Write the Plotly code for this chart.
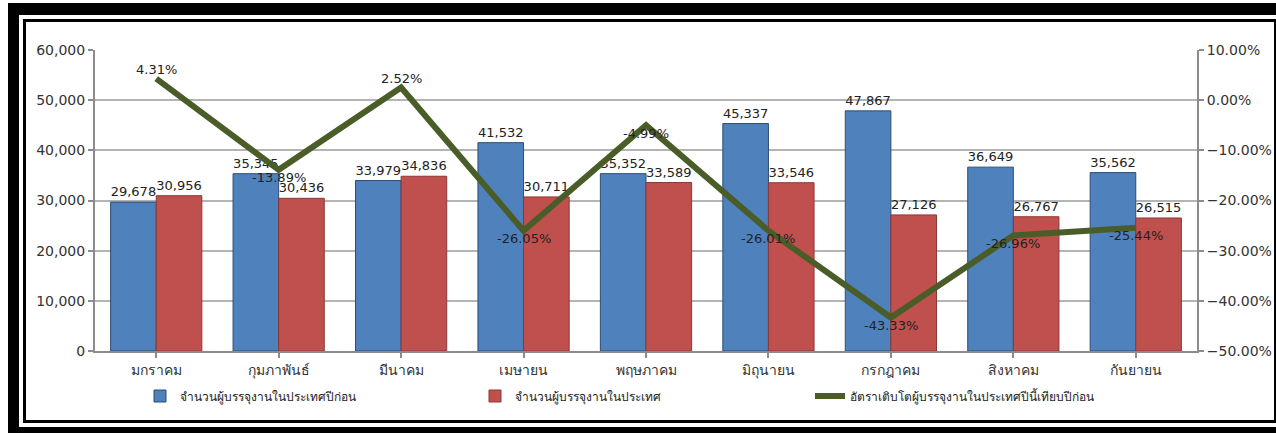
import plotly.graph_objects as go

months = ["มกราคม", "กุมภาพันธ์", "มีนาคม", "เมษายน", "พฤษภาคม",
          "มิถุนายน", "กรกฎาคม", "สิงหาคม", "กันยายน"]
prev_year = [29678, 35345, 33979, 41532, 35352, 45337, 47867, 36649, 35562]
this_year = [30956, 30436, 34836, 30711, 33589, 33546, 27126, 26767, 26515]
growth_pct = [4.31, -13.89, 2.52, -26.05, -4.99, -26.01, -43.33, -26.96, -25.44]

name_prev = "จำนวนผู้บรรจุงานในประเทศปีก่อน"
name_this = "จำนวนผู้บรรจุงานในประเทศ"
name_rate = "อัตราเติบโตผู้บรรจุงานในประเทศปีนี้เทียบปีก่อน"

W, H = 1276, 433
L, R, T, B = 95, 1197, 50, 351   # plot area in pixels

FONT = "Tahoma, Verdana, DejaVu Sans, sans-serif"
TXT = "#222222"


def px(x):
    return (x - L) / (R - L)


def py(y):
    return (B - y) / (B - T)


fig = go.Figure()
fig.add_trace(go.Bar(
    x=months, y=prev_year, name=name_prev,
    marker=dict(color="#4F81BD", line=dict(color="#2C4D75", width=1)),
    text=[f"{v:,}" for v in prev_year], textposition="outside",
    textfont=dict(family=FONT, size=13, color=TXT), cliponaxis=False,
))
fig.add_trace(go.Bar(
    x=months, y=this_year, name=name_this,
    marker=dict(color="#C0504D", line=dict(color="#8C3836", width=1)),
    text=[f"{v:,}" for v in this_year], textposition="outside",
    textfont=dict(family=FONT, size=13, color=TXT), cliponaxis=False,
))
fig.add_trace(go.Scatter(
    x=months, y=growth_pct, name=name_rate, yaxis="y2",
    mode="lines", line=dict(color="#4A5D28", width=6),
))

annotations = []
for m, v in zip(months, growth_pct):
    annotations.append(dict(
        x=m, y=v, xref="x", yref="y2", text=f"{v:.2f}%", showarrow=False,
        yshift=9 if v > 0 else -8,
        font=dict(family=FONT, size=13, color=TXT),
    ))

shapes = [
    dict(type="rect", xref="paper", yref="paper", layer="below",
         x0=px(8), x1=px(1320), y0=py(3), y1=py(460),
         fillcolor="black", line=dict(width=0)),
    dict(type="rect", xref="paper", yref="paper", layer="below",
         x0=px(19), x1=px(1310), y0=py(15), y1=py(427),
         fillcolor="white", line=dict(width=0)),
    dict(type="rect", xref="paper", yref="paper", layer="below",
         x0=px(24.5), x1=px(1275.5), y0=py(20.5), y1=py(421.5),
         fillcolor="white", line=dict(color="black", width=3)),
]

axis_common = dict(
    showline=True, linecolor="#8c8c8c", linewidth=2,
    ticks="outside", tickcolor="#8c8c8c", ticklen=5, tickwidth=2,
    tickfont=dict(family=FONT, size=14, color="#333333"),
)

fig.update_layout(
    width=W, height=H,
    margin=dict(l=L, r=W - R, t=T, b=H - B, pad=0, autoexpand=False),
    paper_bgcolor="white", plot_bgcolor="rgba(0,0,0,0)",
    barmode="group", bargap=0.255, bargroupgap=0,
    font=dict(family=FONT, size=13, color=TXT),
    xaxis=dict(**axis_common, showgrid=False),
    yaxis=dict(**axis_common, range=[0, 60000], dtick=10000, tickformat=",",
               showgrid=True, gridcolor="#b4b4b4", gridwidth=2, zeroline=False),
    yaxis2=dict(**axis_common, overlaying="y", side="right",
                range=[-50, 10], dtick=10, tickformat=".2f", ticksuffix="%",
                showgrid=False, zeroline=False),
    legend=dict(orientation="h", x=px(140), xanchor="left", y=py(396), yanchor="middle",
                entrywidth=290, entrywidthmode="pixels",
                font=dict(family=FONT, size=12, color=TXT), bgcolor="rgba(0,0,0,0)"),
    showlegend=True,
    shapes=shapes,
    annotations=annotations,
)

fig.write_html("out.html", config={"displayModeBar": False},
               post_script="document.body.style.margin='0';document.body.style.padding='0';")
